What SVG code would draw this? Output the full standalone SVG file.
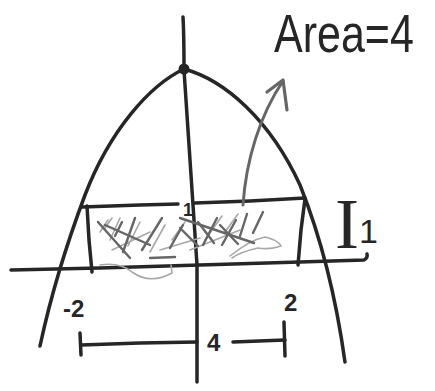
<svg xmlns="http://www.w3.org/2000/svg" width="435" height="391" viewBox="0 0 435 391">
<style>
.ink{fill:none;stroke:#262626;stroke-width:3.5;stroke-linecap:round;stroke-linejoin:round}
.hatch{fill:none;stroke:#666;stroke-width:2.4;stroke-linecap:round}
.light{fill:none;stroke:#a8a8a8;stroke-width:1.6;stroke-linecap:round}
.t{font-family:"Liberation Sans","DejaVu Sans",sans-serif;fill:#262626}
</style>
<rect width="435" height="391" fill="#fff"/>
<g id="axes">
<path class="ink" d="M183,17 C184,35 184,55 184,70 L190,160 L197,265 L197,382"/>
<path class="ink" d="M11,270 L100,268 L200,265 L300,262 L364,260 Q368,258 367,254"/>
</g>
<g id="parabola">
<path class="ink" d="M184,69 C150,85 110,130 85,195 C 70,235 52,290 40,346"/>
<path class="ink" d="M184,69 C225,80 270,120 300,185 C 320,235 335,290 345,362"/>
<circle cx="184" cy="69" r="5.5" fill="#262626"/>
</g>
<g id="rectangle">
<path class="ink" d="M82,207 L140,205 L178,204"/>
<path class="ink" d="M195,203 L250,201 L305,198"/>
<path class="ink" d="M87,206 L89,240 L92,272"/>
<path class="ink" d="M305,199 L301,230 L298,265"/>
</g>
<g id="hatching">
<path class="light" d="M100,265 Q120,262 132,272 Q150,285 172,273 L171,265"/>
<path class="light" d="M230,256 Q250,240 265,237 Q278,240 281,246 Q270,250 258,248 Q240,252 232,258"/>
<path class="light" d="M105,228 L112,218 M110,240 L120,218 M128,246 L140,222 M150,252 L165,225 M172,240 L185,222 M205,240 L222,216 M225,232 L238,214 M190,250 L240,230 M100,232 L108,220 M160,250 L200,238 M112,250 L150,232"/>
<path class="hatch" d="M98,222 L130,258"/>
<path class="hatch" d="M180,218 L254,243"/>
<path class="hatch" d="M198,222 L214,243"/>
<path class="hatch" d="M220,225 L238,244"/>
<path class="hatch" d="M180,228 L198,246"/>
<path class="hatch" d="M123,252 L135,218"/>
<path class="hatch" d="M142,250 L162,218"/>
<path class="hatch" d="M170,248 L183,225"/>
<path class="hatch" d="M203,245 L217,218"/>
<path class="hatch" d="M222,245 L236,220"/>
<path class="hatch" d="M240,236 L247,214"/>
<path class="hatch" d="M253,233 L263,212"/>
<path class="hatch" d="M115,236 L122,222"/>
<path class="hatch" d="M150,258 L175,257"/>
<path class="hatch" d="M105,225 L150,245"/>
</g>
<g id="arrow">
<path fill="none" stroke="#666" stroke-width="3" stroke-linecap="round" d="M243,205 C246,160 260,115 283,81"/>
<path fill="none" stroke="#666" stroke-width="3.2" stroke-linecap="round" stroke-linejoin="round" d="M267,92 L283,80 L287,110"/>
</g>
<g id="labels">
<text class="t" x="274" y="52" font-size="43" transform="translate(274,52) scale(1,1.25) translate(-274,-52)">Area=4</text>
<text class="t" x="183" y="216" font-size="18" font-weight="bold">1</text>
<text x="335" y="248" font-size="72" fill="#262626" font-family="Liberation Serif,serif">I</text>
<text class="t" x="359" y="243" font-size="34">1</text>
<text class="t" x="63" y="317" font-size="24" font-weight="bold">-2</text>
<text class="t" x="284" y="311" font-size="24" font-weight="bold">2</text>
<text class="t" x="207" y="351" font-size="24" font-weight="bold">4</text>
</g>
<g id="span">
<path class="ink" d="M80,333 L81,355"/>
<path class="ink" d="M81,345 L140,343 L197,342"/>
<path class="ink" d="M233,342 L285,340"/>
<path class="ink" d="M284,322 L285,356"/>
</g>
</svg>
